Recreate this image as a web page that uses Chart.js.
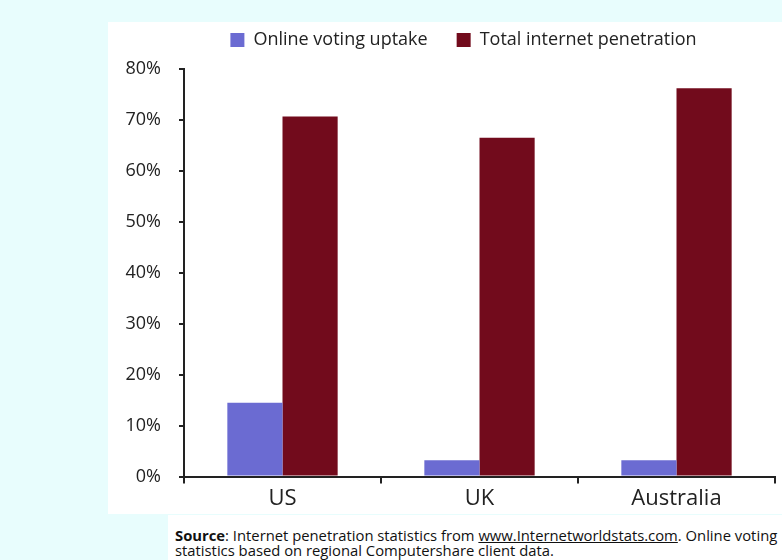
<!DOCTYPE html>
<html>
<head>
<meta charset="utf-8">
<script src="https://cdn.jsdelivr.net/npm/chart.js@4"></script>
<style>
    html, body { margin: 0; padding: 0; }
    body { width: 782px; height: 560px; background: #e8fdfd; position: relative; overflow: hidden; font-family: "Open Sans", sans-serif; }
    #panel { position: absolute; left: 108px; top: 22px; width: 674px; height: 492px; background: #fff; }
    #votingChart { position: absolute; left: 0; top: 0; }
    #source { position: absolute; left: 168px; top: 515px; width: 614px; height: 45px; background: #fff; white-space: nowrap;
              font-size: 14.8px; line-height: 15px; color: #111; padding: 13px 0 0 7px; box-sizing: border-box; }
</style>
</head>
<body>
<div id="panel"></div>
<canvas id="votingChart" width="782" height="560"></canvas>
<div id="source"><b>Source</b>: Internet penetration statistics from <u>www.Internetworldstats.com</u>. Online voting<br>statistics based on regional Computershare client data.</div>
<script>
const countries = ['US', 'UK', 'Australia'];
const onlineVoting = [14.5, 3.2, 3.2];
const internetPenetration = [70.7, 66.5, 76.2];
const yTicks = [0, 10, 20, 30, 40, 50, 60, 70, 80];

// move the legend over the plot and a bit higher, like the original
const legendShift = {
    id: 'legendShift',
    afterLayout(chart) {
        chart.legend.left += 76;
        chart.legend.right += 76;
        chart.legend.top -= 10;
        chart.legend.bottom -= 10;
    }
};

new Chart(document.getElementById('votingChart'), {
    type: 'bar',
    data: {
        labels: countries,
        datasets: [
            { label: 'Online voting uptake', data: onlineVoting, backgroundColor: '#6b6bd2' },
            { label: 'Total internet penetration', data: internetPenetration, backgroundColor: '#720b1c' }
        ]
    },
    options: {
        responsive: false,
        animation: false,
        devicePixelRatio: 1,
        layout: { padding: { top: 12, right: 7, bottom: 46, left: 0 } },
        categoryPercentage: 0.56,
        barPercentage: 1,
        plugins: {
            legend: {
                position: 'top',
                labels: {
                    boxWidth: 14, boxHeight: 14, padding: 29,
                    color: '#222',
                    font: { family: 'Open Sans', size: 18 }
                }
            },
            tooltip: { enabled: false }
        },
        scales: {
            x: {
                grid: { drawOnChartArea: false, drawTicks: true, tickLength: 7, color: '#222', lineWidth: 2, offset: true },
                border: { display: true, color: '#222', width: 2 },
                ticks: { color: '#222', padding: 2, font: { family: 'Open Sans', size: 22 } }
            },
            y: {
                min: 0, max: 80,
                afterFit(scale) { scale.width = 184; },
                afterBuildTicks(scale) { scale.ticks = yTicks.map(v => ({ value: v })); },
                grid: { drawOnChartArea: false, drawTicks: true, tickLength: 5, color: '#222', lineWidth: 2 },
                border: { display: true, color: '#222', width: 2 },
                ticks: { color: '#222', padding: 18, font: { family: 'Open Sans', size: 18 }, callback: v => v + '%' }
            }
        }
    },
    plugins: [legendShift]
});
</script>
</body>
</html>
